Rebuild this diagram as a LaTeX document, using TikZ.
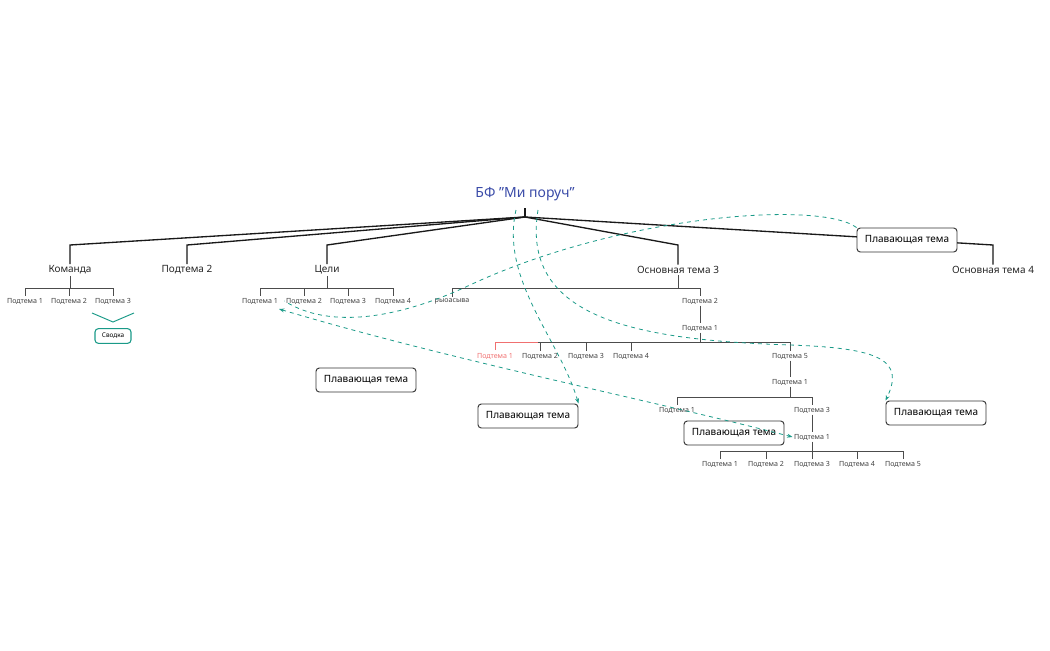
\documentclass[tikz,border=0pt]{standalone}
\usepackage{fontspec}
\setmainfont{Noto Sans}
\usetikzlibrary{arrows.meta}
\definecolor{teal1}{HTML}{1A9A88}
\definecolor{rootblue}{HTML}{3A4BA8}
\definecolor{redl}{HTML}{F07070}
\begin{document}
\begin{tikzpicture}[x=0.75pt,y=-0.75pt,
  main/.style={font=\bfseries\fontsize{7.5}{9}\selectfont,text=black!85,inner sep=1pt},
  sub/.style={font=\fontsize{5.3}{6}\selectfont,text=black!75,inner sep=1pt},
  float/.style={draw=black!80,rounded corners=2.5pt,font=\bfseries\fontsize{7.5}{9}\selectfont,minimum width=75pt,minimum height=18pt,fill=white,line width=0.7pt},
  br/.style={line width=1pt,black!90},
  sb/.style={line width=0.6pt,black!70},
  rel/.style={teal1,dashed,line width=0.6pt},
  ar/.style={-{Stealth[length=4pt,width=3pt]}}]
\useasboundingbox (0,0) rectangle (1050,650);
\node[font=\bfseries\fontsize{10.5}{12}\selectfont,text=rootblue] (root) at (525,194) {БФ "Ми поруч"};
\coordinate (r) at (525,217);
\draw[br] (525,208) -- (r);
\node[main] (k) at (70,270) {Команда};
\node[main] (p2) at (187,270) {Подтема 2};
\node[main] (c) at (327,270) {Цели};
\node[main] (o3) at (678,270) {Основная тема 3};
\node[main] (o4) at (993,270) {Основная тема 4};
\foreach \n/\x in {k/70,p2/187,c/327,o3/678,o4/993}
  \draw[br] (r) -- (\x,245) -- (\n.north);
\node[float] (f1) at (907,240) {Плавающая тема};
% Команда
\foreach \n/\x/\t in {k1/25/Подтема 1,k2/69/Подтема 2,k3/113/Подтема 3}
  {\node[sub] (\n) at (\x,301) {\t}; \draw[sb] (\x,288) -- (\n.north);}
\draw[sb] (k.south) -- (70,288); \draw[sb] (25,288) -- (113,288);
\node[draw=teal1,rounded corners=2.5pt,line width=0.8pt,font=\bfseries\fontsize{4.8}{6}\selectfont,minimum width=27pt,minimum height=11pt] (sv) at (113,336) {Сводка};
\draw[teal1,line width=0.7pt] (92,313) -- (113,322) -- (134,313);
% Цели
\foreach \n/\x/\t in {c1/260/Подтема 1,c2/304/Подтема 2,c3/348/Подтема 3,c4/393/Подтема 4}
  {\node[sub] (\n) at (\x,301) {\t}; \draw[sb] (\x,288) -- (\n.north);}
\draw[sb] (c.south) -- (327,288); \draw[sb] (260,288) -- (393,288);
% Основная тема 3
\node[sub] (ry) at (452,301) {рыоасыва};
\node[sub] (op2) at (700,301) {Подтема 2};
\draw[sb] (o3.south) -- (678,288); \draw[sb] (452,288) -- (700,288);
\draw[sb] (452,288) -- (ry.north); \draw[sb] (700,288) -- (op2.north);
\node[sub] (a1) at (700,328) {Подтема 1};
\draw[sb] (op2.south) -- (a1.north);
\draw[sb] (a1.south) -- (700,342); \draw[sb] (538,342) -- (790,342);
\draw[redl,line width=0.6pt] (495,350) -- (495,342) -- (538,342);
\node[sub,text=redl] (b1) at (495,356) {Подтема 1};
\foreach \n/\x/\t in {b2/540/Подтема 2,b3/586/Подтема 3,b4/631/Подтема 4,b5/790/Подтема 5}
  {\node[sub] (\n) at (\x,356) {\t}; \draw[sb] (\x,342) -- (\n.north);}
\node[sub] (d1) at (790,382) {Подтема 1};
\draw[sb] (b5.south) -- (d1.north);
\draw[sb] (d1.south) -- (790,397); \draw[sb] (677,397) -- (812,397);
\node[sub] (e1) at (677,410) {Подтема 1};
\node[sub] (e3) at (812,410) {Подтема 3};
\draw[sb] (677,397) -- (e1.north); \draw[sb] (812,397) -- (e3.north);
\node[sub] (g1) at (812,437) {Подтема 1};
\draw[sb] (e3.south) -- (g1.north);
\draw[sb] (g1.south) -- (812,451); \draw[sb] (720,451) -- (903,451);
\foreach \n/\x/\t in {h1/720/Подтема 1,h2/766/Подтема 2,h3/812/Подтема 3,h4/857/Подтема 4,h5/903/Подтема 5}
  {\node[sub] (\n) at (\x,464) {\t}; \draw[sb] (\x,451) -- (\n.north);}
% floating
\node[float] (f2) at (366,380) {Плавающая тема};
\node[float] (f3) at (528,416) {Плавающая тема};
\node[float] (f4) at (734,433) {Плавающая тема};
\node[float] (f5) at (936,413) {Плавающая тема};
% relations
\draw[rel] (f1.north west) .. controls (820,200) and (620,215) .. (470,285) .. controls (400,318) and (330,330) .. (c2.west);
\draw[rel,{Stealth[length=4pt,width=3pt]}-{Stealth[length=4pt,width=3pt]}] (279,309) .. controls (450,360) and (650,400) .. (g1.west);
\draw[rel,ar] (516,210) .. controls (500,280) and (560,340) .. (f3.north east) ;
\draw[rel,ar] (538,210) .. controls (520,320) and (640,340) .. (790,345) .. controls (880,348) and (905,360) .. (f5.north west);
\end{tikzpicture}
\end{document}
